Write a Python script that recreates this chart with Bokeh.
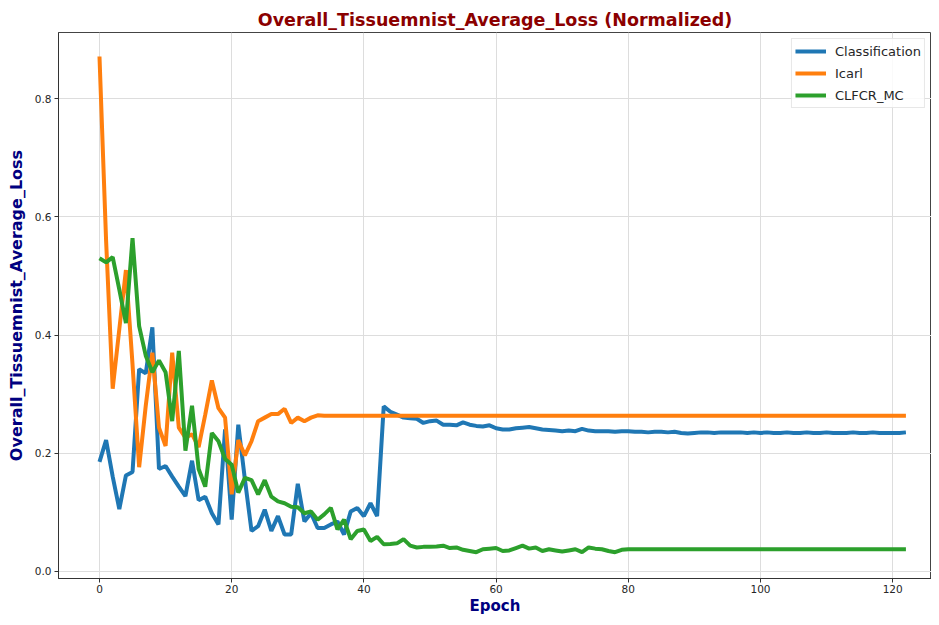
from bokeh.plotting import figure
from bokeh.models import (Range1d, FixedTicker, Legend, LegendItem,
                          CustomJSTickFormatter)
from bokeh.embed import file_html
from bokeh.resources import INLINE

epochs = list(range(123))

classification = [
    0.185, 0.222, 0.160, 0.105, 0.162, 0.168, 0.342, 0.335, 0.413, 0.173,
    0.178, 0.160, 0.143, 0.127, 0.187, 0.120, 0.126, 0.098, 0.079, 0.240,
    0.087, 0.248, 0.155, 0.068, 0.076, 0.104, 0.068, 0.093, 0.062, 0.062,
    0.148, 0.084, 0.098, 0.073, 0.073, 0.079, 0.084, 0.062, 0.101, 0.107,
    0.093, 0.115, 0.093, 0.279, 0.270, 0.265, 0.260, 0.259, 0.258, 0.251,
    0.254, 0.255, 0.248, 0.248, 0.247, 0.252, 0.248, 0.246, 0.245, 0.247,
    0.242, 0.240, 0.240, 0.242, 0.243, 0.244, 0.242, 0.240, 0.239, 0.238,
    0.237, 0.238, 0.237, 0.241, 0.238, 0.237, 0.237, 0.237, 0.236, 0.237,
    0.237, 0.236, 0.236, 0.235, 0.236, 0.236, 0.235, 0.236, 0.234, 0.233,
    0.234, 0.235, 0.235, 0.234, 0.235, 0.235, 0.235, 0.235, 0.234, 0.235,
    0.234, 0.235, 0.234, 0.234, 0.235, 0.234, 0.234, 0.235, 0.234, 0.234,
    0.235, 0.234, 0.234, 0.234, 0.235, 0.234, 0.234, 0.235, 0.234, 0.234,
    0.234, 0.234, 0.235,
]

icarl = [
    0.872, 0.560, 0.309, 0.410, 0.510, 0.350, 0.176, 0.280, 0.370, 0.243,
    0.212, 0.370, 0.243, 0.226, 0.232, 0.210, 0.265, 0.323, 0.276, 0.260,
    0.130, 0.222, 0.196, 0.220, 0.254, 0.260, 0.266, 0.266, 0.275, 0.251,
    0.260, 0.254, 0.260, 0.264,
] + [0.263] * 89

clfcr_mc = [
    0.530, 0.523, 0.532, 0.477, 0.420, 0.564, 0.415, 0.365, 0.337, 0.357,
    0.337, 0.254, 0.373, 0.204, 0.280, 0.173, 0.143, 0.234, 0.220, 0.190,
    0.180, 0.133, 0.158, 0.154, 0.130, 0.154, 0.126, 0.118, 0.115, 0.109,
    0.108, 0.098, 0.101, 0.087, 0.096, 0.107, 0.0705, 0.087, 0.054, 0.068,
    0.0705, 0.051, 0.058, 0.0455, 0.046, 0.047, 0.054, 0.043, 0.040, 0.041,
    0.041, 0.0415, 0.043, 0.039, 0.040, 0.036, 0.034, 0.032, 0.037, 0.038,
    0.039, 0.034, 0.035, 0.039, 0.043, 0.038, 0.040, 0.034, 0.037, 0.035,
    0.033, 0.035, 0.037, 0.032, 0.040, 0.038, 0.037, 0.034, 0.032, 0.036,
] + [0.037] * 43

series_names = ["Classification", "Icarl", "CLFCR_MC"]
series_colors = ["#1f77b4", "#ff7f0e", "#2ca02c"]
x_ticks = [0, 20, 40, 60, 80, 100, 120]
y_ticks = [0.0, 0.2, 0.4, 0.6, 0.8]

FONT = "DejaVu Sans"
W, H = 931, 617

p = figure(width=W, height=H, output_backend="svg", toolbar_location=None,
           x_range=Range1d(-6.2, 125.87), y_range=Range1d(-0.0126, 0.9126),
           min_border_left=58, min_border_right=0, min_border_top=32,
           min_border_bottom=20)

p.title.text = "Overall_Tissuemnist_Average_Loss (Normalized)"
p.title.align = "center"
p.title.text_font = FONT
p.title.text_font_style = "bold"
p.title.text_font_size = "17.5px"
p.title.text_color = "#8b0000"
p.title.offset = 0
p.title.standoff = 6

renderers = []
for ys, name, col in zip([classification, icarl, clfcr_mc], series_names, series_colors):
    r = p.line(epochs, ys, line_color=col, line_width=4)
    renderers.append((name, r))

legend = Legend(items=[LegendItem(label=n, renderers=[r]) for n, r in renderers],
                location="top_right")
legend.label_text_font = FONT
legend.label_text_font_size = "13px"
legend.label_text_color = "#262626"
legend.glyph_width = 31
legend.glyph_height = 18
legend.label_height = 18
legend.spacing = 4
legend.padding = 3
legend.margin = 6
legend.label_standoff = 9
legend.border_line_color = "#d0d0d0"
legend.border_line_width = 1
legend.background_fill_alpha = 0.85
p.add_layout(legend)

p.xaxis.ticker = FixedTicker(ticks=x_ticks)
p.yaxis.ticker = FixedTicker(ticks=y_ticks)
p.yaxis.formatter = CustomJSTickFormatter(code="return tick.toFixed(1);")

for ax in (p.xaxis, p.yaxis):
    ax.major_label_text_font = FONT
    ax.major_label_text_font_size = "10.5px"
    ax.major_label_text_color = "#262626"
    ax.axis_label_text_font = FONT
    ax.axis_label_text_font_style = "bold"
    ax.axis_label_text_color = "#000080"
    ax.minor_tick_line_color = None
    ax.major_tick_in = 0
    ax.major_tick_out = 4
    ax.axis_line_color = "#333333"
    ax.major_tick_line_color = "#333333"
    ax.major_label_standoff = 3

p.xaxis.axis_label = "Epoch"
p.xaxis.axis_label_text_font_size = "15px"
p.xaxis.axis_label_standoff = 1
p.xaxis.major_label_standoff = 2

p.yaxis.axis_label = "Overall_Tissuemnist_Average_Loss"
p.yaxis.axis_label_text_font_size = "16px"
p.yaxis.axis_label_standoff = 6

p.xgrid.ticker = FixedTicker(ticks=x_ticks)
p.ygrid.ticker = FixedTicker(ticks=y_ticks)
p.grid.grid_line_color = "#dddddd"
p.grid.grid_line_width = 1
p.outline_line_color = "#444444"
p.outline_line_width = 1

open("out.html", "w").write(file_html(p, INLINE))
